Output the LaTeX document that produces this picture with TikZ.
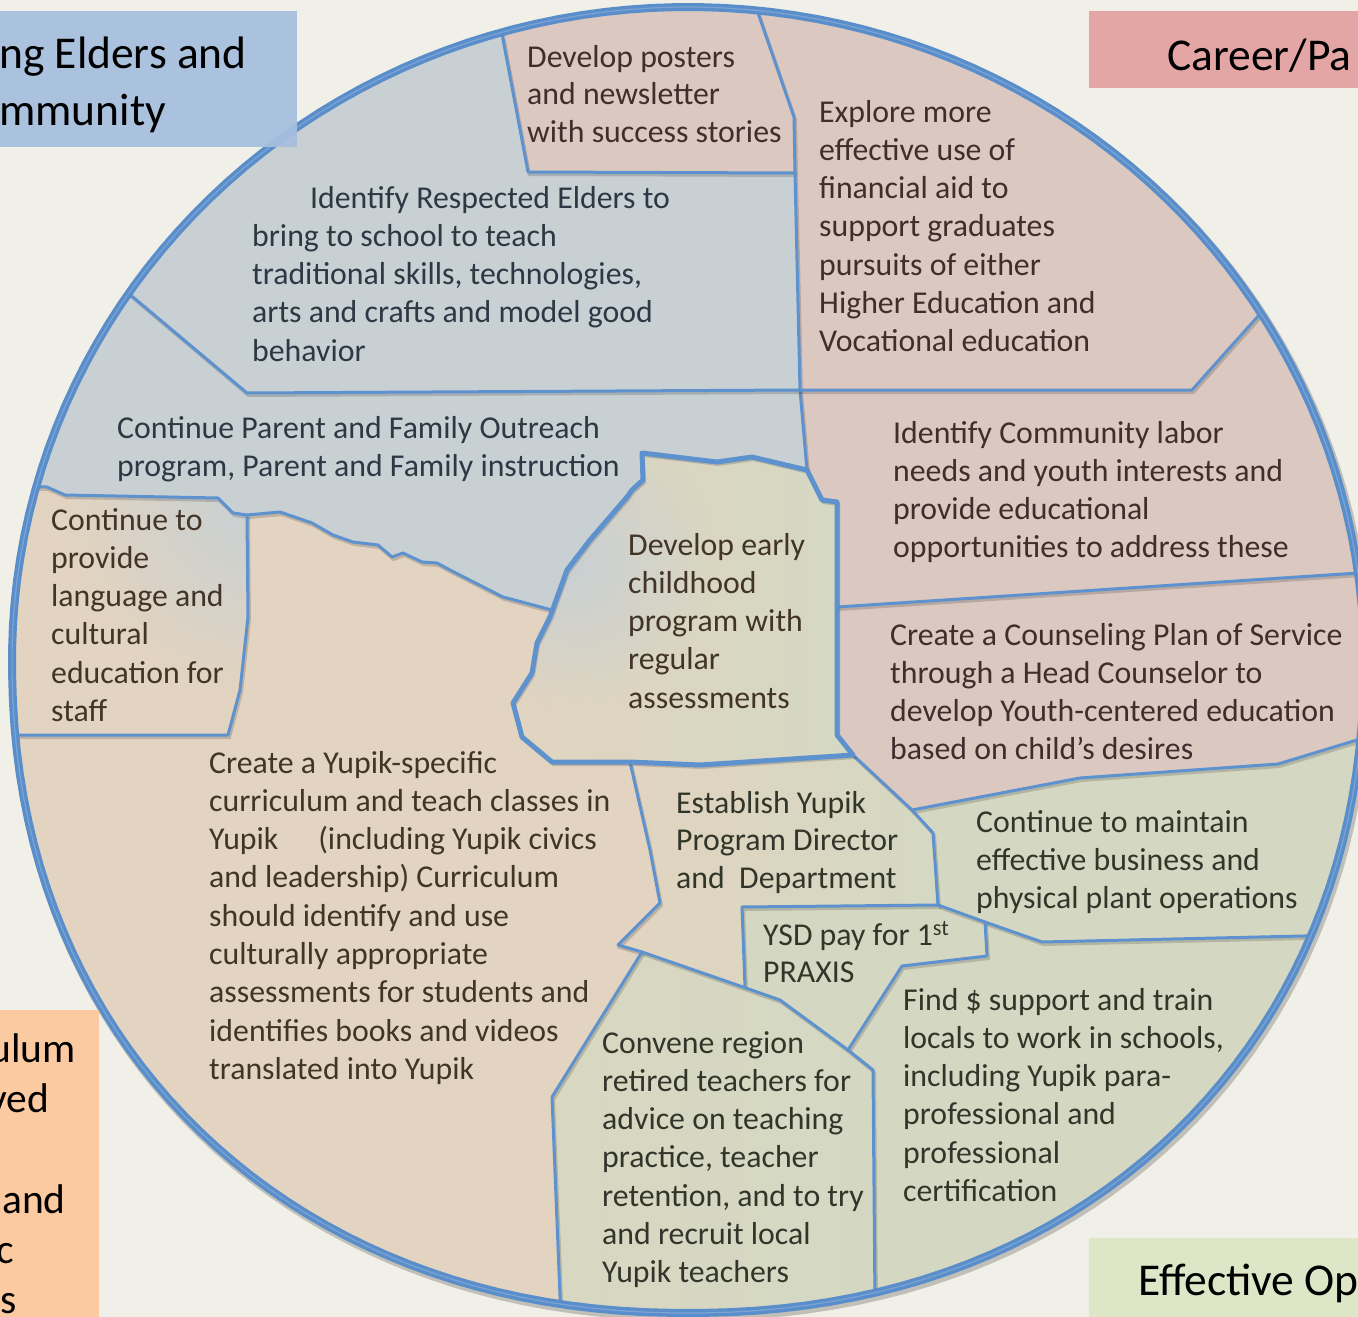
\documentclass[tikz,border=0pt]{standalone}
\usepackage{fontspec}
\setmainfont{Carlito}
\usetikzlibrary{fadings}
\tikzfading[name=softspot, inner color=transparent!0, outer color=transparent!100]

\definecolor{bgC}{RGB}{240,240,232}
\definecolor{blueR}{RGB}{200,208,212}
\definecolor{pinkR}{RGB}{219,200,192}
\definecolor{tanR}{RGB}{226,212,192}
\definecolor{greenR}{RGB}{212,216,194}
\definecolor{rimC}{RGB}{90,142,202}
\definecolor{lineC}{RGB}{94,146,207}
\definecolor{boxBlue}{RGB}{166,191,222}
\definecolor{boxPink}{RGB}{227,166,164}
\definecolor{boxOrange}{RGB}{252,202,160}
\definecolor{boxGreen}{RGB}{222,230,200}
\definecolor{tBlue}{RGB}{45,56,68}
\definecolor{tPink}{RGB}{62,46,44}
\definecolor{tTan}{RGB}{66,53,40}
\definecolor{tGreen}{RGB}{50,54,42}

% outer rim: upper half elliptic, lower half slightly squarer
\newcommand\rimpath{plot[domain=1:359,samples=180,variable=\t]
  ({688+676*cos(\t)*(\t<180 ? abs(cos(\t))^(-0.06) : 1)},
   {660+653*sin(\t)*(\t<180 ? abs(sin(\t))^(-0.06) : 1)}) -- cycle}
\newcommand\lines[1]{\begin{tabular}[t]{@{}l@{}}#1\end{tabular}}

\begin{document}
\begin{tikzpicture}[x=1pt,y=-1pt,
  body/.style={anchor=base west, inner sep=0pt, font=\fontsize{31.8}{38.3}\selectfont},
  tight/.style={font=\fontsize{31.8}{37.6}\selectfont},
  title/.style={anchor=base west, inner sep=0pt, text=black, font=\fontsize{45.5}{57}\selectfont},
  side/.style={anchor=base east, inner sep=0pt, text=black, font=\fontsize{41.5}{50}\selectfont},
  bline/.style={draw=lineC, line width=3pt, line join=round, line cap=round,
    preaction={draw=black, draw opacity=0.16, line width=3pt,
      transform canvas={xshift=1.5pt,yshift=-2.5pt}}},
  cline/.style={bline, line width=5pt}]
\useasboundingbox (0,0) rectangle (1358,1317);
\fill[bgC] (0,0) rectangle (1358,1317);

% rim shadow and base fill
\draw[black, opacity=0.2, line width=10pt, transform canvas={xshift=2pt,yshift=-3pt}] \rimpath;
\fill[tanR] \rimpath;

\begin{scope}
  \clip \rimpath;
  % blue sector
  \fill[blueR] (-20,487) -- (-20,-20) -- (492,-20) -- (502,34) -- (528,172) -- (795,173)
    -- (800,390) -- (807,470) -- (752,457) -- (717,462) -- (642,453) -- (643,480)
    -- (632,490) -- (627,497) -- (590,540) -- (567,570) -- (552,610) -- (503,597)
    -- (450,570) -- (437,563) -- (422,562) -- (403,553) -- (392,557) -- (378,545)
    -- (353,542) -- (333,535) -- (312,523) -- (280,512) -- (247,515) -- (233,513)
    -- (218,498) -- (65,495) -- (47,487) -- cycle;
  % pink sectors
  \fill[pinkR] (492,-20) -- (502,34) -- (528,172) -- (795,173) -- (794,117) -- (757,10)
    -- (747,-20) -- cycle;
  \fill[pinkR] (747,-20) -- (757,10) -- (794,117) -- (795,173) -- (800,390) -- (807,470)
    -- (822,500) -- (837,502) -- (837,735) -- (853,755) -- (912,810) -- (1080,778)
    -- (1278,764) -- (1357,740) -- (1420,720) -- (1420,-20) -- cycle;
  % green sector
  \fill[greenR] (630,762) -- (700,765) -- (853,755) -- (912,810) -- (1080,778)
    -- (1278,764) -- (1357,740) -- (1420,720) -- (1420,1420) -- (565,1420)
    -- (552,1097) -- (642,952) -- (618,945) -- (660,903) -- (650,850) -- cycle;
  % convene region, slight warm tint on the left
  \begin{scope}
    \clip (642,952) -- (743,987) -- (780,1000) -- (848,1050) -- (873,1070) -- (876,1420)
      -- (565,1420) -- (552,1097) -- cycle;
    \shade[left color=greenR!70!tanR, right color=greenR] (545,940) rectangle (880,1320);
  \end{scope}
  % establish region, tan to green
  \begin{scope}
    \clip (630,762) -- (700,765) -- (853,755) -- (912,810) -- (933,833) -- (938,905)
      -- (742,907) -- (745,987) -- (642,952) -- (618,945) -- (660,903) -- (650,850) -- cycle;
    \shade[left color=tanR, right color=greenR] (610,755) rectangle (945,990);
  \end{scope}
  % staff language region with blue corner
  \begin{scope}
    \clip (-20,487) -- (47,487) -- (65,495) -- (218,498) -- (233,513) -- (247,515)
      -- (248,617) -- (240,690) -- (228,735) -- (-20,735) -- cycle;
    \fill[tanR] (-20,480) rectangle (260,740);
    \fill[blueR, path fading=softspot] (255,500) circle (190pt);
  \end{scope}
  % early childhood region
  \begin{scope}
    \clip (642,453) -- (717,462) -- (752,457) -- (807,470) -- (822,500) -- (837,502)
      -- (837,735) -- (853,755) -- (700,765) -- (630,762) -- (552,762) -- (522,737)
      -- (513,703) -- (532,673) -- (537,643) -- (550,617) -- (567,570) -- (590,540)
      -- (627,497) -- (632,490) -- (643,480) -- cycle;
    \shade[left color=tanR, middle color=tanR!60!greenR, right color=greenR] (505,445) rectangle (850,770);
    \fill[blueR, path fading=softspot] (565,560) circle (150pt);
  \end{scope}

  % dividing lines
  \draw[bline] (492,-20) -- (502,34) -- (528,172) -- (795,173);
  \draw[bline] (747,-20) -- (757,10) -- (794,117) -- (795,173) -- (800,390) -- (807,470);
  \draw[bline] (108,276) -- (247,393) -- (800,390);
  \draw[bline] (800,390) -- (1192,390) -- (1285,286);
  \draw[bline] (837,607) -- (1420,569);
  \draw[bline] (853,755) -- (912,810) -- (1080,778) -- (1278,764) -- (1357,740) -- (1420,720);
  \draw[bline] (912,810) -- (933,833) -- (938,905) -- (742,907) -- (745,987);
  \draw[bline] (938,905) -- (985,922) -- (1042,942) -- (1303,936) -- (1420,934);
  \draw[bline] (985,922) -- (987,956) -- (902,966) -- (848,1050);
  \draw[bline] (630,762) -- (650,850) -- (660,903) -- (618,945) -- (642,952) -- (743,987)
    -- (780,1000) -- (848,1050) -- (873,1070) -- (876,1420);
  \draw[bline] (642,952) -- (552,1097) -- (565,1420);
  \draw[bline] (-20,486) -- (47,487) -- (65,495) -- (218,498) -- (233,513) -- (247,515)
    -- (280,512) -- (312,523) -- (333,535) -- (353,542) -- (378,545) -- (392,557)
    -- (403,553) -- (422,562) -- (437,563) -- (450,570) -- (503,597) -- (552,610);
  \draw[bline] (247,515) -- (248,617) -- (240,690) -- (228,735) -- (-20,735);
  \draw[cline] (642,453) -- (717,462) -- (752,457) -- (807,470) -- (822,500) -- (837,502)
    -- (837,735) -- (853,755) -- (700,765) -- (630,762) -- (552,762) -- (522,737)
    -- (513,703) -- (532,673) -- (537,643) -- (550,617) -- (567,570) -- (590,540)
    -- (627,497) -- (632,490) -- (643,480) -- cycle;
\end{scope}

% outer rim
\draw[rimC, line width=8pt] \rimpath;
\draw[rimC!80!white, line width=1.2pt] \rimpath;

% sector texts
\node[body, tight, text=tPink] (posters) at (527,67) {\lines{Develop posters\\and newsletter\\with success stories}};
\node[body, text=tPink] (explore) at (819,122) {\lines{Explore more\\effective use of\\financial aid to\\support graduates\\pursuits of either\\Higher Education and\\Vocational education}};
\node[body, text=tBlue] (elders) at (252,208) {\lines{\hspace*{58pt}Identify Respected Elders to\\bring to school to teach\\traditional skills, technologies,\\arts and crafts and model good\\behavior}};
\node[body, text=tBlue] (parents) at (117,438) {\lines{Continue Parent and Family Outreach\\program, Parent and Family instruction}};
\node[body, text=tTan] (staff) at (51,530) {\lines{Continue to\\provide\\language and\\cultural\\education for\\staff}};
\node[body, text=tTan] (early) at (628,555) {\lines{Develop early\\childhood\\program with\\regular\\assessments}};
\node[body, text=tPink] (labor) at (893,443) {\lines{Identify Community labor\\needs and youth interests and\\provide educational\\opportunities to address these}};
\node[body, text=tPink] (counsel) at (890,645) {\lines{Create a Counseling Plan of Service\\through a Head Counselor to\\develop Youth-centered education\\based on child’s desires}};
\node[body, text=tTan] (yupik) at (209,773) {\lines{Create a Yupik-specific\\curriculum and teach classes in\\Yupik\hspace{40pt}(including Yupik civics\\and leadership) Curriculum\\should identify and use\\culturally appropriate\\assessments for students and\\identifies books and videos\\translated into Yupik}};
\node[body, tight, text=tGreen] (director) at (676,813) {\lines{Establish Yupik\\Program Director\\and\ \ Department}};
\node[body, text=tGreen] (business) at (976,832) {\lines{Continue to maintain\\effective business and\\physical plant operations}};
\node[body, tight, text=tGreen] (praxis) at (763,945) {\lines{YSD pay for 1\textsuperscript{st}\\PRAXIS}};
\node[body, text=tGreen] (locals) at (903,1010) {\lines{Find \$ support and train\\locals to work in schools,\\including Yupik para-\\professional and\\professional\\certification}};
\node[body, text=tGreen] (retired) at (602,1053) {\lines{Convene region\\retired teachers for\\advice on teaching\\practice, teacher\\retention, and to try\\and recruit local\\Yupik teachers}};

% corner labels
\fill[boxBlue, opacity=0.93] (0,11) rectangle (297,147);
\node[title] (eldersT) at (-1,68) {\lines{ng Elders and\\mmunity}};
\fill[boxPink] (1089,11) rectangle (1358,88);
\node[title] (careerT) at (1167,70) {Career/Pa};
\fill[boxOrange] (0,1010) rectangle (99,1317);
\node[side] (currA) at (76,1062) {ulum};
\node[side] (currB) at (49,1112) {ved};
\node[side] (currC) at (66,1213) {and};
\node[side] (currD) at (14,1263) {c};
\node[side] (currE) at (17,1313) {s};
\fill[boxGreen] (1089,1238) rectangle (1358,1317);
\node[title] (opsT) at (1138,1295) {Effective Op};
\end{tikzpicture}
\end{document}
